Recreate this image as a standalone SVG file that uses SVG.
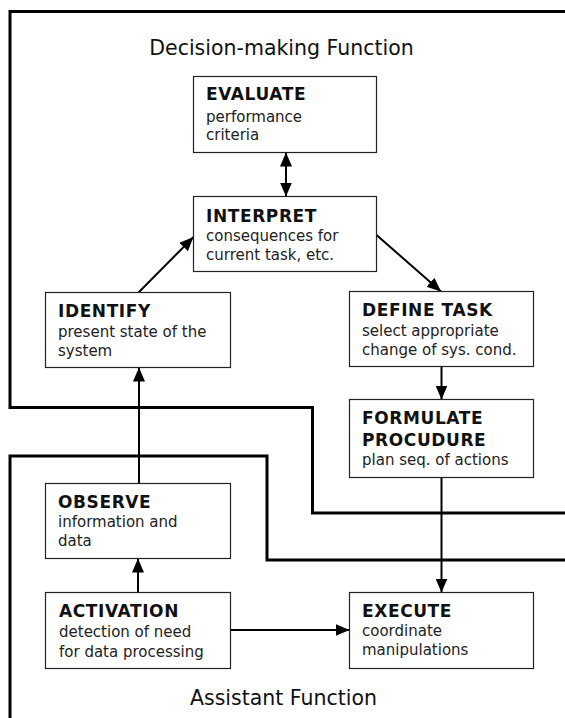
<svg xmlns="http://www.w3.org/2000/svg" width="565" height="718" viewBox="0 0 565 718">
<style>
  .box { fill: #fff; stroke: #222; stroke-width: 1.2; }
  .h { font-family: "DejaVu Sans", "Liberation Sans", sans-serif; font-weight: bold; font-size: 17px; letter-spacing: 0.6px; fill: #111; }
  .b { font-family: "DejaVu Sans", "Liberation Sans", sans-serif; font-size: 15px; fill: #222; }
  .t { font-family: "DejaVu Sans", "Liberation Sans", sans-serif; font-size: 20.5px; fill: #111; text-anchor: middle; }
  .bound { fill: none; stroke: #000; stroke-width: 3; }
  .c { fill: none; stroke: #000; stroke-width: 2; }
</style>
<defs>
  <marker id="ah" markerWidth="14" markerHeight="12" refX="14" refY="6" orient="auto-start-reverse" markerUnits="userSpaceOnUse">
    <path d="M0,0 L14,6 L0,12 z" fill="#000"/>
  </marker>
</defs>
<rect width="565" height="718" fill="#fff"/>

<g id="boundaries">
  <path class="bound" d="M565,11.5 H10 V407.5 H312.5 V513 H565"/>
  <path class="bound" d="M565,560 H267 V456 H10 V718"/>
</g>

<g id="labels">
  <text class="t" x="281.5" y="55">Decision-making Function</text>
  <text class="t" x="283.5" y="705">Assistant Function</text>
</g>

<g id="connectors">
  <line class="c" x1="286" y1="152.5" x2="286" y2="196.5" marker-start="url(#ah)" marker-end="url(#ah)"/>
  <line class="c" x1="138.5" y1="292.5" x2="193.5" y2="237" marker-end="url(#ah)"/>
  <line class="c" x1="376.5" y1="235" x2="441" y2="291.5" marker-end="url(#ah)"/>
  <line class="c" x1="441.5" y1="366.5" x2="441.5" y2="399.5" marker-end="url(#ah)"/>
  <line class="c" x1="441.5" y1="477.5" x2="441.5" y2="592.5" marker-end="url(#ah)"/>
  <line class="c" x1="139" y1="483.5" x2="139" y2="367.5" marker-end="url(#ah)"/>
  <line class="c" x1="138" y1="592.5" x2="138" y2="558.5" marker-end="url(#ah)"/>
  <line class="c" x1="230.5" y1="630" x2="349.5" y2="630" marker-end="url(#ah)"/>
</g>

<g id="evaluate">
  <rect class="box" x="193.5" y="76.5" width="183" height="76"/>
  <text class="h" x="206" y="100">EVALUATE</text>
  <text class="b" x="206" y="121.5">performance</text>
  <text class="b" x="206" y="139.5">criteria</text>
</g>
<g id="interpret">
  <rect class="box" x="193.5" y="196.5" width="183" height="75"/>
  <text class="h" x="206" y="221.5">INTERPRET</text>
  <text class="b" x="206" y="240.5">consequences for</text>
  <text class="b" x="206" y="259.5">current task, etc.</text>
</g>
<g id="identify">
  <rect class="box" x="45.5" y="292.5" width="185" height="75"/>
  <text class="h" x="58" y="316.5">IDENTIFY</text>
  <text class="b" x="58" y="336.5">present state of the</text>
  <text class="b" x="58" y="355.5">system</text>
</g>
<g id="define-task">
  <rect class="box" x="349.5" y="291.5" width="184" height="75"/>
  <text class="h" x="362" y="315.5">DEFINE TASK</text>
  <text class="b" x="362" y="335.5">select appropriate</text>
  <text class="b" x="362" y="355">change of sys. cond.</text>
</g>
<g id="formulate">
  <rect class="box" x="349.5" y="399.5" width="184" height="78"/>
  <text class="h" x="362" y="423.5">FORMULATE</text>
  <text class="h" x="362" y="446">PROCUDURE</text>
  <text class="b" x="362" y="465">plan seq. of actions</text>
</g>
<g id="observe">
  <rect class="box" x="45.5" y="483.5" width="185" height="75"/>
  <text class="h" x="58" y="507.5">OBSERVE</text>
  <text class="b" x="58" y="526.5">information and</text>
  <text class="b" x="58" y="545.5">data</text>
</g>
<g id="activation">
  <rect class="box" x="45.5" y="592.5" width="185" height="76"/>
  <text class="h" x="59" y="616.5">ACTIVATION</text>
  <text class="b" x="59" y="636.5">detection of need</text>
  <text class="b" x="59" y="656.5">for data processing</text>
</g>
<g id="execute">
  <rect class="box" x="349.5" y="592.5" width="184" height="76"/>
  <text class="h" x="362" y="616.5">EXECUTE</text>
  <text class="b" x="362" y="636">coordinate</text>
  <text class="b" x="362" y="655">manipulations</text>
</g>
</svg>
